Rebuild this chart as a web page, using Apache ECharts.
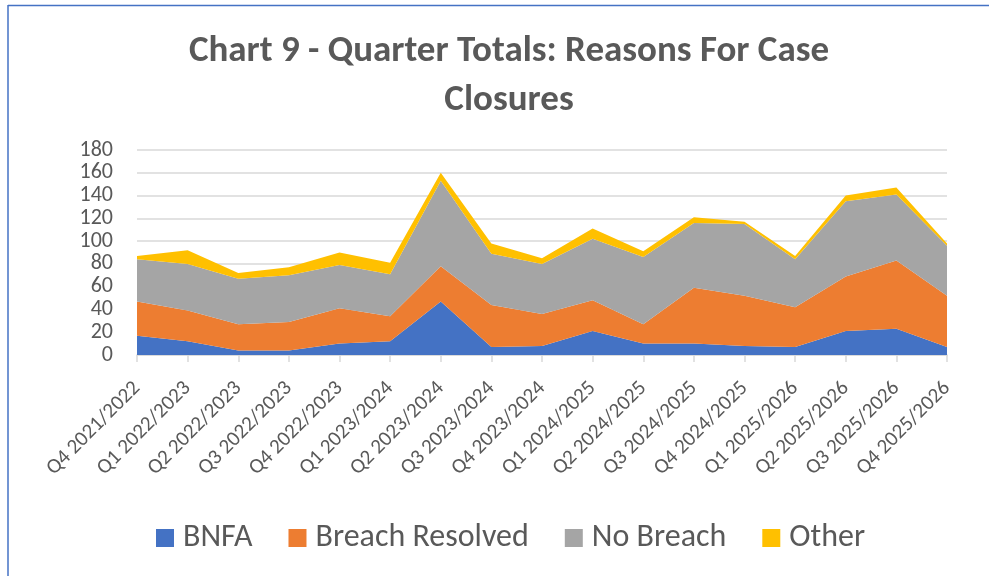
<!DOCTYPE html>
<html>
<head>
<meta charset="utf-8">
<script src="https://cdn.jsdelivr.net/npm/echarts@6/dist/echarts.min.js"></script>
<style>
    html, body { margin: 0; padding: 0; background: #fff; }
    #chart { width: 989px; height: 576px; }
</style>
</head>
<body>
<div id="chart"></div>
<script>
var quarters = ['Q4 2021/2022', 'Q1 2022/2023', 'Q2 2022/2023', 'Q3 2022/2023', 'Q4 2022/2023',
    'Q1 2023/2024', 'Q2 2023/2024', 'Q3 2023/2024', 'Q4 2023/2024', 'Q1 2024/2025',
    'Q2 2024/2025', 'Q3 2024/2025', 'Q4 2024/2025', 'Q1 2025/2026', 'Q2 2025/2026',
    'Q3 2025/2026', 'Q4 2025/2026'];
var bnfa = [17, 12, 4, 4, 10, 12, 47, 7, 8, 21, 10, 10, 8, 7, 21, 23, 7];
var breachResolved = [30, 27, 23, 25, 31, 22, 31, 37, 28, 27, 17, 49, 44, 35, 48, 60, 45];
var noBreach = [37, 41, 40, 41, 38, 37, 75, 45, 44, 54, 59, 57, 63, 42, 66, 58, 44];
var other = [3, 12, 5, 7, 11, 10, 7, 9, 5, 9, 5, 5, 2, 3, 5, 6, 2];

var font = 'Carlito, Calibri, Lato, sans-serif';
var textColor = '#595959';

var myChart = echarts.init(document.getElementById('chart'));

function areaSeries(name, data, color) {
    return {
        name: name,
        type: 'line',
        stack: 'total',
        data: data,
        symbol: 'none',
        lineStyle: { width: 0 },
        areaStyle: { color: color, opacity: 1 },
        itemStyle: { color: color },
        emphasis: { disabled: true },
        animation: false
    };
}

var option = {
    animation: false,
    title: {
        text: 'Chart 9 - Quarter Totals: Reasons For Case\nClosures',
        left: 504,
        top: 22,
        textAlign: 'center',
        textStyle: {
            fontFamily: font,
            fontSize: 37,
            fontWeight: 'bold',
            color: textColor,
            lineHeight: 49
        }
    },
    legend: {
        left: 156,
        top: 522,
        padding: 0,
        itemWidth: 18,
        itemHeight: 18,
        itemGap: 36,
        icon: 'rect',
        textStyle: {
            fontFamily: font,
            fontSize: 32,
            color: textColor,
            padding: [0, 0, 0, 4]
        },
        data: ['BNFA', 'Breach Resolved', 'No Breach', 'Other']
    },
    grid: {
        left: 137,
        right: 42,
        top: 150,
        bottom: 221,
        containLabel: false
    },
    xAxis: {
        type: 'category',
        data: quarters,
        boundaryGap: false,
        axisLine: { lineStyle: { color: '#D9D9D9', width: 1.5 } },
        axisTick: { show: true, length: 7, lineStyle: { color: '#D9D9D9', width: 1.5 } },
        axisLabel: {
            rotate: 45,
            interval: 0,
            margin: 30,
            hideOverlap: false,
            fontFamily: font,
            fontSize: 21,
            color: textColor
        }
    },
    yAxis: {
        type: 'value',
        min: 0,
        max: 180,
        interval: 20,
        axisLine: { show: false },
        axisTick: { show: false },
        axisLabel: {
            margin: 24,
            showMinLabel: true,
            showMaxLabel: true,
            hideOverlap: false,
            fontFamily: font,
            fontSize: 22,
            color: textColor
        },
        splitLine: { lineStyle: { color: '#D9D9D9', width: 1.5 } }
    },
    graphic: [
        { type: 'line', shape: { x1: 8, y1: 5.5, x2: 989, y2: 5.5 }, style: { stroke: '#4472C4', lineWidth: 1.5 } },
        { type: 'line', shape: { x1: 8, y1: 5, x2: 8, y2: 576 }, style: { stroke: '#4472C4', lineWidth: 1.5 } }
    ],
    series: [
        areaSeries('BNFA', bnfa, '#4472C4'),
        areaSeries('Breach Resolved', breachResolved, '#ED7D31'),
        areaSeries('No Breach', noBreach, '#A5A5A5'),
        areaSeries('Other', other, '#FFC000')
    ]
};
myChart.setOption(option);
</script>
</body>
</html>
